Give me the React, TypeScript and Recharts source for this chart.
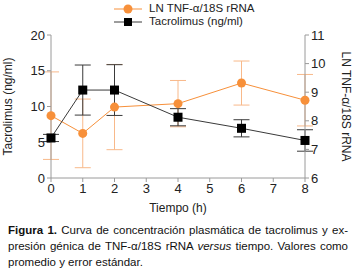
import { ComposedChart, Line, XAxis, YAxis, ErrorBar, Legend } from "recharts";

const times = [0, 1, 2, 4, 6, 8];
const tacrolimus = [5.6, 12.3, 12.3, 8.5, 6.95, 5.25];
const tacrolimusErr = [0.5, 3.5, 3.55, 1.2, 1.2, 1.5];
const tnf = [8.18, 7.56, 8.48, 8.6, 9.32, 8.72];
const tnfErr = [1.53, 1.2, 1.49, 0.81, 0.77, 0.9];

const xTicks = [0, 1, 2, 3, 4, 5, 6, 7, 8];
const leftTicks = [0, 5, 10, 15, 20];
const rightTicks = [6, 7, 8, 9, 10, 11];

const ORANGE = "#f7903a";
const ORANGE_ERR = "#f8b98a";
const BLACK = "#3a3a3a";
const AXIS = "#9a9a9a";
const FONT = '"Liberation Sans", Arial, sans-serif';

const data = times.map((t, i) => ({
  t,
  tacro: tacrolimus[i],
  tacroErr: tacrolimusErr[i],
  tnf: tnf[i],
  tnfErr: tnfErr[i],
}));

const tick = { fill: "#222", fontSize: 13, fontFamily: FONT };

function Square(props: any) {
  const { cx, cy, index } = props;
  if (cx == null || cy == null) return <g key={index} />;
  return <rect key={index} x={cx - 4.5} y={cy - 4.5} width={9} height={9} fill="#000" />;
}

function LegendBox() {
  return (
    <div style={{ fontFamily: FONT, fontSize: 11.5, color: "#222", lineHeight: "13px" }}>
      <div style={{ display: "flex", alignItems: "center" }}>
        <svg width={30} height={12}>
          <line x1={0} y1={6} x2={28} y2={6} stroke={ORANGE} strokeWidth={1} />
          <circle cx={14} cy={6} r={4.5} fill={ORANGE} />
        </svg>
        <span style={{ marginLeft: 5 }}>LN TNF-α/18S rRNA</span>
      </div>
      <div style={{ display: "flex", alignItems: "center" }}>
        <svg width={30} height={12}>
          <line x1={0} y1={6} x2={28} y2={6} stroke={BLACK} strokeWidth={1} />
          <rect x={10} y={2} width={8} height={8} fill="#000" />
        </svg>
        <span style={{ marginLeft: 5 }}>Tacrolimus (ng/ml)</span>
      </div>
    </div>
  );
}

export default function App() {
  return (
    <div style={{ position: "absolute", left: 0, top: 0, width: 356, height: 272, fontFamily: FONT }}>
      <ComposedChart width={356} height={218} data={data} margin={{ top: 9, right: 0, bottom: 0, left: 0 }}>
        <XAxis
          dataKey="t"
          type="number"
          domain={[0, 8]}
          ticks={xTicks}
          height={40}
          tick={tick}
          tickSize={4}
          stroke={AXIS}
          label={{ value: "Tiempo (h)", position: "insideBottom", offset: 6, fill: "#222", fontSize: 12, fontFamily: FONT }}
        />
        <YAxis
          yAxisId="left"
          domain={[0, 20]}
          ticks={leftTicks}
          width={51}
          tick={tick}
          tickSize={4}
          stroke={AXIS}
          label={{
            value: "Tacrolimus (ng/ml)",
            angle: -90,
            position: "insideLeft",
            offset: 8,
            fill: "#222",
            fontSize: 12,
            fontFamily: FONT,
            style: { textAnchor: "middle" },
          }}
        />
        <YAxis
          yAxisId="right"
          orientation="right"
          domain={[6, 11]}
          ticks={rightTicks}
          width={51}
          tick={tick}
          tickSize={4}
          stroke={AXIS}
          label={{
            value: "LN TNF-α/18S rRNA",
            angle: 90,
            position: "insideRight",
            offset: 10,
            fill: "#222",
            fontSize: 12,
            fontFamily: FONT,
            style: { textAnchor: "middle" },
          }}
        />
        <Legend
          verticalAlign="top"
          content={() => <LegendBox />}
          wrapperStyle={{ top: 2, left: 114, width: 200 }}
        />
        <Line
          yAxisId="right"
          dataKey="tnf"
          stroke={ORANGE}
          strokeWidth={1}
          dot={{ r: 4.5, fill: ORANGE, stroke: ORANGE, strokeWidth: 0 }}
          isAnimationActive={false}
        >
          <ErrorBar dataKey="tnfErr" direction="y" width={8} stroke={ORANGE_ERR} strokeWidth={1} />
        </Line>
        <Line
          yAxisId="left"
          dataKey="tacro"
          stroke={BLACK}
          strokeWidth={1}
          dot={Square}
          isAnimationActive={false}
        >
          <ErrorBar dataKey="tacroErr" direction="y" width={8} stroke={BLACK} strokeWidth={1} />
        </Line>
      </ComposedChart>
      <div
        style={{
          position: "absolute",
          left: 8,
          top: 222,
          width: 340,
          fontSize: 11.5,
          lineHeight: "16px",
          textAlign: "justify",
          color: "#111",
        }}
      >
        <b>Figura 1.</b> Curva de concentración plasmática de tacrolimus y ex-presión génica de TNF-α/18S rRNA <i>versus</i> tiempo. Valores como promedio y error estándar.
      </div>
    </div>
  );
}
